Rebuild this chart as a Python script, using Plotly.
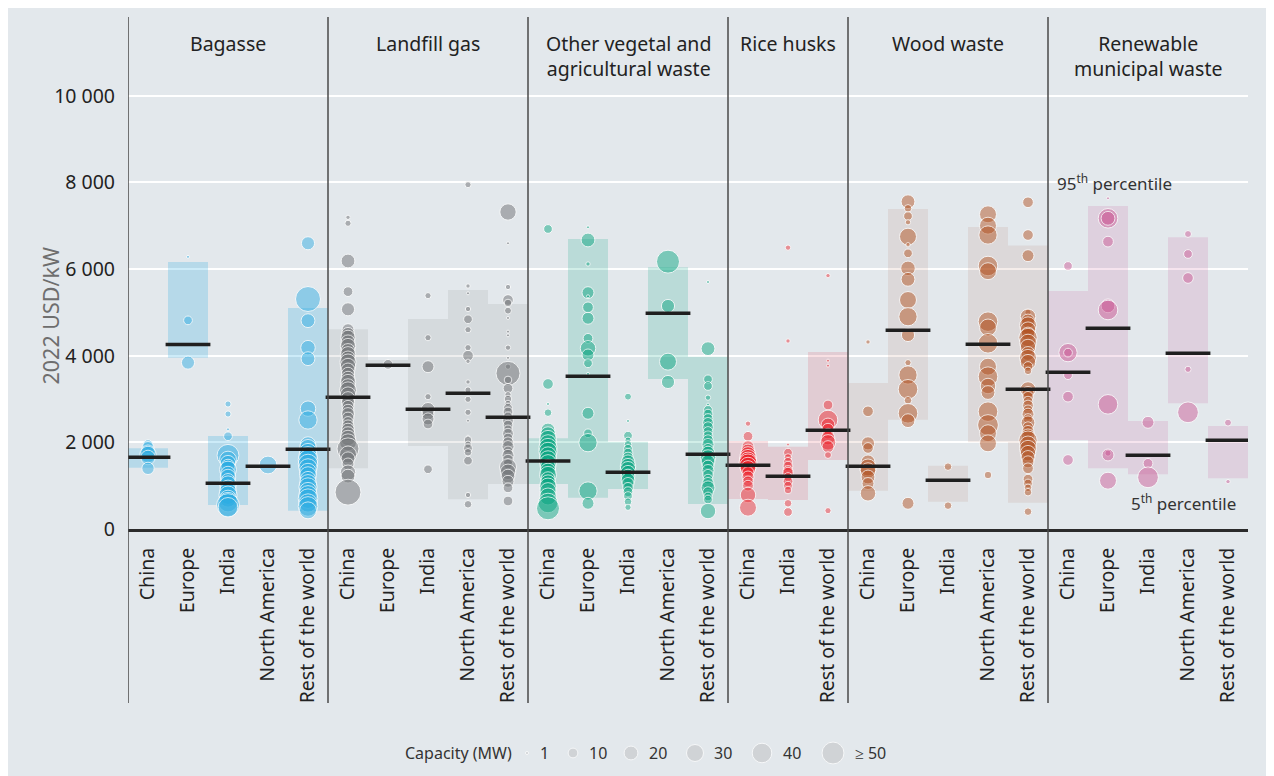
import numpy as np
import plotly.graph_objects as go

# installed cost (2022 USD/kW) and capacity (MW) per project
BAGASSE = {
    "China": [(1950, 10), (1880, 15), (1780, 20), (1720, 28), (1650, 22), (1400, 16)],
    "Europe": [(6280, 1), (4815, 8), (3840, 18)],
    "India": [(2885, 4), (2654, 4), (2300, 1), (2140, 8), (1700, 50), (1600, 30), (1520, 25), (1450, 20),
              (1370, 30), (1280, 22), (1200, 25), (1120, 20), (1030, 30), (950, 25), (870, 30), (780, 35),
              (700, 30), (620, 40), (550, 55), (500, 40)],
    "North America": [(1477, 33)],
    "Rest of the world": [(6594, 18), (5308, 65), (4808, 20), (4185, 22), (3931, 20), (2777, 25), (2516, 35),
                          (1950, 25), (1870, 30), (1780, 30), (1690, 35), (1600, 40), (1500, 40), (1410, 35),
                          (1320, 30), (1240, 30), (1150, 25), (1060, 30), (970, 35), (880, 30), (790, 35),
                          (700, 40), (600, 35), (520, 40), (430, 30)],
}
BAGASSE_P5 = [1415, 3950, 554, None, 423]
BAGASSE_P95 = [1863, 6160, 2146, None, 5100]
BAGASSE_MEDIAN = [1655, 4260, 1055, 1447, 1840]

LANDFILL = {
    "China": [(7193, 2), (7055, 4), (6185, 20), (5478, 10), (5070, 18), (4600, 15), (4500, 18), (4420, 22),
              (4320, 20), (4220, 25), (4120, 20), (4030, 25), (3940, 22), (3850, 28), (3760, 25), (3670, 20),
              (3580, 18), (3480, 20), (3390, 25), (3300, 22), (3200, 30), (3100, 25), (3010, 20), (2920, 18),
              (2830, 15), (2740, 15), (2650, 18), (2560, 15), (2470, 12), (2380, 15), (2290, 18), (2200, 20),
              (2100, 25), (2000, 30), (1850, 50), (1720, 30), (1620, 20), (1500, 15), (1300, 25), (1220, 20),
              (850, 70)],
    "Europe": [(3800, 10)],
    "India": [(5385, 4), (4415, 4), (3746, 15), (3054, 4), (2760, 20), (2650, 15), (2540, 15), (2423, 10),
              (1378, 8)],
    "North America": [(7947, 4), (5608, 2), (5440, 1), (5077, 3), (4840, 8), (4600, 4), (4185, 4), (4000, 12),
                      (3870, 2), (3393, 2), (3208, 4), (2993, 4), (2693, 4), (2500, 1), (2130, 1), (2054, 6),
                      (1950, 5), (1862, 8), (1770, 6), (1577, 8), (785, 3), (570, 6)],
    "Rest of the world": [(7316, 28), (6594, 1), (5585, 3), (5285, 12), (5216, 6), (5039, 5), (4870, 1),
                          (4555, 1), (4470, 1), (4185, 3), (3950, 1), (3746, 3), (3593, 60), (3440, 6),
                          (3247, 10), (3100, 4), (3000, 6), (2900, 4), (2800, 8), (2700, 10), (2600, 8),
                          (2500, 12), (2400, 10), (2300, 8), (2200, 12), (2100, 10), (2000, 12), (1900, 15),
                          (1800, 10), (1700, 15), (1600, 12), (1500, 10), (1430, 30), (1320, 25), (1220, 20),
                          (1100, 15), (950, 10), (646, 10)],
}
LANDFILL_P5 = [1400, 3760, 1916, 685, 1039]
LANDFILL_P95 = [4608, 3900, 4847, 5516, 5193]
LANDFILL_MEDIAN = [3040, 3778, 2763, 3132, 2578]

OTHER_VEG = {
    "China": [(6924, 8), (3347, 12), (2885, 1), (2685, 6), (2285, 20), (2180, 25), (2080, 30), (1980, 30),
              (1880, 35), (1790, 35), (1700, 30), (1610, 30), (1520, 30), (1430, 25), (1340, 25), (1250, 30),
              (1160, 20), (1070, 25), (980, 30), (880, 28), (750, 30), (600, 40), (477, 55)],
    "Europe": [(6963, 1), (6670, 20), (6116, 2), (5454, 15), (5370, 1), (5116, 12), (4863, 15), (4400, 10),
               (4170, 25), (4016, 15), (3824, 8), (3580, 1), (2670, 15), (2209, 8), (1992, 35), (877, 35),
               (593, 15)],
    "India": [(3054, 5), (2493, 1), (2154, 8), (2050, 4), (1950, 6), (1850, 8), (1750, 10), (1650, 12),
              (1550, 20), (1450, 25), (1380, 25), (1300, 22), (1220, 20), (1131, 20), (1050, 15), (950, 12),
              (860, 10), (760, 8), (630, 6), (500, 4)],
    "North America": [(6170, 55), (5147, 18), (3862, 30), (3393, 18)],
    "Rest of the world": [(5700, 1), (4162, 20), (3455, 8), (3300, 8), (3031, 3), (2870, 1), (2750, 8),
                          (2650, 10), (2550, 10), (2450, 12), (2350, 12), (2250, 10), (2150, 10), (2050, 12),
                          (1950, 15), (1850, 12), (1750, 20), (1650, 25), (1550, 20), (1450, 15), (1350, 15),
                          (1250, 12), (1150, 10), (1050, 15), (950, 20), (850, 12), (750, 8), (680, 8),
                          (415, 25)],
}
OTHER_VEG_P5 = [1039, 723, 923, 3462, 577]
OTHER_VEG_P95 = [2093, 6693, 2016, 6040, 3977]
OTHER_VEG_MEDIAN = [1570, 3523, 1308, 4978, 1724]

RICE = {
    "China": [(2431, 3), (2139, 10), (1900, 15), (1800, 20), (1720, 25), (1640, 30), (1580, 30), (1520, 35),
              (1460, 30), (1400, 25), (1300, 15), (1200, 15), (1100, 12), (1000, 12), (785, 25), (492, 30)],
    "India": [(6493, 3), (4339, 2), (1950, 1), (1762, 8), (1650, 6), (1550, 8), (1450, 10), (1350, 10),
              (1300, 12), (1200, 8), (1100, 10), (1000, 8), (900, 6), (593, 6), (392, 8)],
    "Rest of the world": [(5847, 2), (3885, 1), (3770, 1), (2862, 10), (2516, 40), (2400, 20), (2300, 15),
                          (2200, 12), (2100, 20), (2000, 25), (1900, 15), (1708, 5), (423, 4)],
}
RICE_P5 = [692, 670, 1593]
RICE_P95 = [2031, 1900, 4085]
RICE_MEDIAN = [1470, 1216, 2278]

WOOD = {
    "China": [(4316, 2), (2716, 12), (1977, 18), (1870, 12), (1550, 20), (1420, 30), (1350, 25), (1200, 20),
              (1050, 15), (823, 25)],
    "Europe": [(7553, 20), (7400, 6), (7220, 8), (7080, 3), (6747, 30), (6560, 2), (6362, 8), (6016, 22),
               (5762, 20), (5285, 30), (4900, 35), (4477, 18), (3839, 4), (3554, 35), (3224, 40), (2970, 6),
               (2670, 40), (2500, 20), (593, 15)],
    "India": [(1439, 6), (539, 6)],
    "North America": [(7263, 30), (7000, 30), (6785, 35), (6070, 40), (5950, 30), (4785, 40), (4650, 30),
                      (4285, 40), (3746, 30), (3516, 40), (3300, 25), (3150, 20), (2708, 40), (2400, 45),
                      (2210, 30), (1977, 30), (1246, 6)],
    "Rest of the world": [(7540, 12), (6785, 12), (6308, 15), (5000, 4), (4900, 25), (4800, 20), (4700, 30),
                          (4600, 25), (4500, 20), (4420, 35), (4300, 30), (4200, 25), (4050, 20), (3950, 30),
                          (3850, 25), (3750, 10), (3650, 6), (3220, 25), (3150, 15), (3050, 12), (2950, 10),
                          (2850, 12), (2750, 10), (2650, 15), (2550, 10), (2450, 20), (2350, 12), (2250, 15),
                          (2150, 20), (2050, 35), (1950, 30), (1850, 30), (1750, 25), (1650, 20), (1550, 15),
                          (1400, 12), (1150, 10), (1050, 8), (950, 6), (850, 6), (400, 6)],
}
WOOD_P5 = [885, 2523, 631, 2000, 608]
WOOD_P95 = [3370, 7386, 1462, 6970, 6540]
WOOD_MEDIAN = [1447, 4585, 1124, 4262, 3224]

MUNICIPAL = {
    "China": [(6070, 8), (4070, 35), (4070, 8), (3550, 8), (3054, 12), (1593, 12)],
    "Europe": [(7632, 1), (7170, 40), (7170, 20), (6632, 12), (5150, 20), (5054, 40), (2877, 40), (1750, 4),
               (1708, 15), (1115, 30)],
    "India": [(2462, 15), (1516, 10), (1193, 45)],
    "North America": [(6808, 5), (6347, 8), (5793, 12), (3685, 4), (2693, 45)],
    "Rest of the world": [(2454, 5), (1093, 2)],
}
MUNICIPAL_P5 = [2054, 1400, 1262, 2900, 1170]
MUNICIPAL_P95 = [5493, 7455, 2493, 6731, 2377]
MUNICIPAL_MEDIAN = [3616, 4631, 1700, 4054, 2047]

LEGEND_MW = [1, 10, 20, 30, 40, 50]
LEGEND_LABELS = ["1", "10", "20", "30", "40", "≥ 50"]

# facet title, points, p5, p95, median, bubble colour, box colour
FACETS = [
    ("Bagasse", BAGASSE, BAGASSE_P5, BAGASSE_P95, BAGASSE_MEDIAN,
     "rgba(41,171,226,0.66)", "rgba(41,171,226,0.24)"),
    ("Landfill gas", LANDFILL, LANDFILL_P5, LANDFILL_P95, LANDFILL_MEDIAN,
     "rgba(110,112,115,0.7)", "rgba(120,122,125,0.13)"),
    ("Other vegetal and<br>agricultural waste", OTHER_VEG, OTHER_VEG_P5, OTHER_VEG_P95, OTHER_VEG_MEDIAN,
     "rgba(0,163,125,0.65)", "rgba(0,163,125,0.18)"),
    ("Rice husks", RICE, RICE_P5, RICE_P95, RICE_MEDIAN,
     "rgba(237,28,36,0.62)", "rgba(220,60,80,0.16)"),
    ("Wood waste", WOOD, WOOD_P5, WOOD_P95, WOOD_MEDIAN,
     "rgba(176,76,24,0.66)", "rgba(176,110,80,0.12)"),
    ("Renewable<br>municipal waste", MUNICIPAL, MUNICIPAL_P5, MUNICIPAL_P95, MUNICIPAL_MEDIAN,
     "rgba(200,76,140,0.62)", "rgba(200,90,150,0.16)"),
]

FONT = "Noto Sans"
BG = "#e3e8ec"
OFF = 8  # the page body margin shifts the figure by 8 px

# plot area in screen pixels: x 128..1248, y 17..766
W, H = 1274 - OFF, 776 - OFF


def bubble_size(mw):
    return 3.1 * np.sqrt(mw)


def py(p):
    # screen pixel row -> paper fraction
    return (766 - p) / 749


fig = go.Figure()
tickvals, ticktext, bounds, centres = [], [], [-0.5], []
med_x, med_y = [], []
pos = 0
for title, points, p5, p95, med, col, boxcol in FACETS:
    regions = list(points.keys())
    xs = list(range(pos, pos + len(regions)))
    centres.append((title, np.mean(xs)))
    bx = [x for x, a in zip(xs, p5) if a is not None]
    lo = [a for a in p5 if a is not None]
    hi = [b for b in p95 if b is not None]
    fig.add_trace(go.Bar(x=bx, y=[h - l for h, l in zip(hi, lo)], base=lo, width=1,
                         marker=dict(color=boxcol, line_width=0), hoverinfo="skip"))
    px_, py_, ps = [], [], []
    for x, r in zip(xs, regions):
        for cost, mw in points[r]:
            px_.append(x)
            py_.append(cost)
            ps.append(bubble_size(mw))
    fig.add_trace(go.Scatter(x=px_, y=py_, mode="markers",
                             marker=dict(size=ps, color=col, line=dict(color="white", width=1))))
    med_x += xs
    med_y += med
    tickvals += xs
    ticktext += regions
    pos += len(regions)
    bounds.append(pos - 0.5)

fig.add_trace(go.Scatter(x=med_x, y=med_y, mode="markers",
                         marker=dict(symbol="line-ew", size=32, line=dict(color="#1f1f1f", width=3.5))))

# capacity legend on a hidden helper axis (x in screen pixels)
legend_x = [527, 573, 631, 695, 762, 833]
fig.add_trace(go.Scatter(x=legend_x, y=[0.5] * len(LEGEND_MW), mode="markers", xaxis="x2", yaxis="y2",
                         marker=dict(size=[bubble_size(m) for m in LEGEND_MW], color="#c9cbcd",
                                     line=dict(color="white", width=1))))
for lx, lab, m in zip(legend_x, LEGEND_LABELS, LEGEND_MW):
    fig.add_annotation(x=lx + bubble_size(m) / 2 + 9, y=0.5, xref="x2", yref="y2", text=lab,
                       showarrow=False, xanchor="left", font=dict(size=16, color="#333"))
fig.add_annotation(x=514, y=0.5, xref="x2", yref="y2", text="Capacity (MW)", showarrow=False,
                   xanchor="right", font=dict(size=16, color="#333"))

for b in bounds[:-1]:
    fig.add_shape(type="line", x0=b, x1=b, y0=py(703), y1=1, xref="x", yref="paper",
                  line=dict(color="#4a4a4a", width=1.5), layer="above")

for title, cx in centres:
    fig.add_annotation(x=cx, y=0.985, xref="x", yref="paper", text=title, showarrow=False,
                       yanchor="top", font=dict(size=19.5, color="#222"))

fig.add_annotation(x=(1055 - 128) / 1120, y=py(168), xref="paper", yref="paper",
                   text="95<sup>th</sup> percentile", showarrow=False, xanchor="left",
                   font=dict(size=17, color="#333"))
fig.add_annotation(x=(1129 - 128) / 1120, y=py(502), xref="paper", yref="paper",
                   text="5<sup>th</sup> percentile", showarrow=False, xanchor="left",
                   font=dict(size=17, color="#333"))
fig.add_annotation(x=(33 - 128) / 1120, y=py(316), xref="paper", yref="paper",
                   text="2022 USD/kW", textangle=-90, showarrow=False,
                   font=dict(size=21.5, color="#6e6e6e"))

fig.update_layout(
    template="none",
    width=W, height=H,
    margin=dict(l=128 - OFF, r=W - (1248 - OFF), t=17 - OFF, b=H - (766 - OFF), pad=0),
    paper_bgcolor=BG, plot_bgcolor=BG,
    font=dict(family=FONT, color="#222"),
    showlegend=False, barmode="overlay", separators=". ",
    xaxis=dict(range=[-0.5, bounds[-1]], tickvals=tickvals, ticktext=ticktext, tickangle=-90,
               showgrid=False, zeroline=False, showline=True, linecolor="#2b2b2b", linewidth=3,
               ticks="", automargin=False,
               tickfont=dict(size=19.5, color="#222"), ticklabelstandoff=8),
    yaxis=dict(domain=[py(529), 1], range=[0, 11816], tickvals=[0, 2000, 4000, 6000, 8000, 10000],
               tickformat=",", showgrid=True, gridcolor="white", gridwidth=2, zeroline=False,
               showline=False, ticks="", automargin=False,
               tickfont=dict(size=19.5, color="#222"), ticklabelstandoff=12),
    xaxis2=dict(domain=[0, 1], range=[128, 1248], anchor="y2", visible=False, automargin=False),
    yaxis2=dict(domain=[0, py(740)], range=[0, 1], anchor="x2", visible=False, automargin=False),
)

fig.write_html("out.html")
